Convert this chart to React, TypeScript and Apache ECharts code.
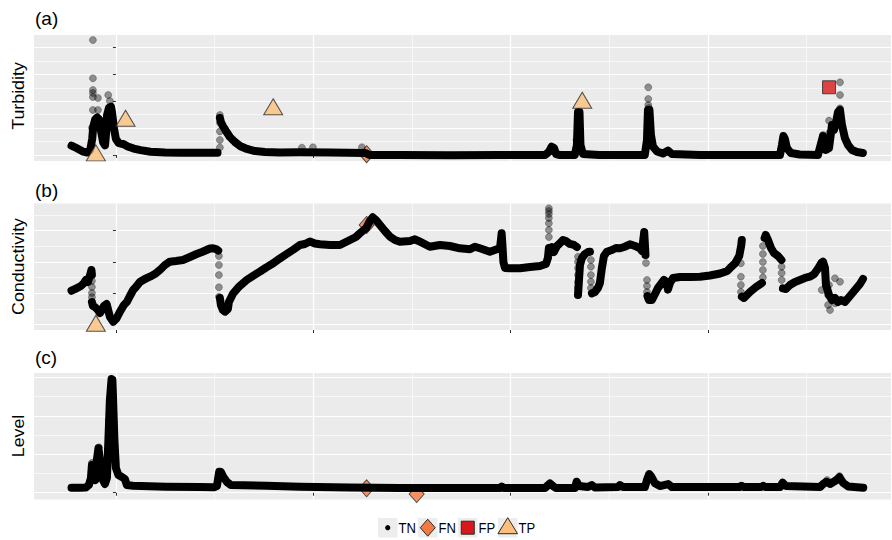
import React, { useEffect, useRef } from 'react';
import * as echarts from 'echarts';

const FONT = '"Liberation Sans", Arial, Helvetica, sans-serif';

// ---- axes (arbitrary units: days on x) ----
const X_MIN = -83;
const X_MAX = 785.5;
const xMajorTicks = [0, 200, 400, 600];
const xMinorTicks = [100, 300, 500, 700];

const turbidityRange = [-5.6, 111.8];
const turbidityMajorTicks = [0, 25, 50, 75, 100];
const turbidityMinorTicks = [12.5, 37.5, 62.5, 87.5];

const conductivityRange = [183.1, 586.8];
const conductivityMajorTicks = [200, 300, 400, 500];
const conductivityMinorTicks = [250, 350, 450, 550];

const levelRange = [-0.088, 1.556];
const levelMajorTicks = [0, 0.5, 1, 1.5];
const levelMinorTicks = [0.25, 0.75, 1.25];

const panelTitles = ['Turbidity', 'Conductivity', 'Level'];
const panelTags = ['(a)', '(b)', '(c)'];
const legendLabels = ['TN', 'FN', 'FP', 'TP'];

// ---- Turbidity (TN trace segments, scattered TN points, events) ----
const turbidityTN = [
  [[-45, 8.7], [-40, 6.5], [-33, 3.1], [-29, 2.3], [-26, 4.7], [-24, 15], [-23, 26], [-21, 33], [-19, 35], [-17, 33], [-15, 22], [-13, 12], [-11, 9], [-10, 20], [-9, 37], [-7, 44], [-5, 45], [-4, 40], [-2, 25], [0, 15], [3, 11], [8, 10], [12, 8], [18, 6], [25, 4.5], [35, 3], [50, 2.3], [67, 2], [85, 2], [103, 2]],
  [[105.4, 34.5], [106.4, 30.7], [108.4, 27], [111.5, 22.4], [115.5, 16.8], [120.6, 12.1], [125.7, 8.4], [132.8, 5.6], [140.9, 3.7], [151, 2.8], [166, 2.3], [186, 2.5], [217, 2.3], [253, 1.9], [257, 0], [288, 0], [338, -0.3], [389, 0], [435, 0], [438.8, 2.8], [441.6, 7.7], [444, 6.5], [446, 0.9], [450, 0], [465, 0], [467.2, 9.3], [468.3, 40], [469.8, 40], [470.8, 9.3], [473.3, 0.9], [490, 0], [536, 0], [538.2, 14], [539.2, 42], [540.7, 42], [542.2, 18.6], [544.3, 7.7], [548.4, 3.3], [554.4, 1.4], [559.4, 4], [563.5, 0.9], [592, 0], [632, 0], [673, 0], [675, 9.3], [676.5, 17.7], [678, 14.9], [680, 6.5], [684, 1.9], [693, 0.5], [711.5, 0], [716.6, 17.7], [719.6, 4.7], [722.7, 6.5], [725.7, 28], [727.7, 23.3], [729.7, 30], [731.8, 40], [733.8, 42], [735.8, 28], [738.8, 15.8], [742, 9.3], [746, 4.7], [751, 2.8], [757, 1.9]],
];
const turbidityScatter = [[-23.3, 107.1], [-23.3, 71.5], [-23.3, 60.6], [-23.3, 57.8], [-23.3, 54], [-18.2, 53.1], [-23.3, 41.9], [-18.2, 41.9], [-7.8, 55.9], [-6.1, 50.3], [-24.3, 25.2], [105.4, 37.3], [105.4, 30], [105.4, 22], [105.4, 14], [105.4, 7], [188.5, 6.8], [199.7, 7.2], [249.3, 7.2], [468.3, 20.5], [468.3, 29.8], [466.7, 14], [539.5, 63.1], [539.5, 52.2], [539.5, 46.6], [540.2, 43.8], [733.8, 67.7], [733.8, 55.9], [733.8, 43.5], [722.7, 32], [722.7, 20.2], [716.6, 18.6]];
const turbidityFN = [[254.1, 0.7]];
const turbidityFP = [[722.7, 63.1]];
const turbidityTP = [[-20.3, 2.0], [9.8, 34.2], [159.4, 45], [472.6, 51]];

// ---- Conductivity ----
const conductivityTN = [
  [[-45, 308.5], [-40, 316.2], [-35.5, 323.5], [-32.4, 333], [-30.4, 342.7], [-28.4, 336.3], [-26.4, 355.4], [-24.8, 374.6], [-24.3, 358.6]],
  [[-24.3, 272.4], [-23.3, 259.7], [-21.3, 256.5], [-18.2, 246.9], [-16.2, 237.3], [-14.2, 246.9], [-12.2, 259.7], [-9.4, 266], [-8.1, 250.1], [-6.1, 225.5], [-2.7, 209.6], [0.7, 220.4], [4.1, 241.5], [8.1, 262.9], [11.1, 272.4], [14.2, 291.6], [17.5, 310.7], [20.3, 320.3], [24.3, 336.3], [29.4, 345.9], [34.5, 353.2], [39.5, 361.8], [44.6, 374.6], [49.7, 390.5], [54.7, 401.1], [60.8, 403.3], [67.9, 406.5], [75, 416], [81.8, 425.6], [87.2, 432], [91.9, 438.4], [95.3, 443.2], [98.6, 443.8], [101.3, 441.6], [103.7, 436.8]],
  [[105.4, 285.2], [106.4, 262.9], [108.4, 246.9], [110.5, 241.5], [113.5, 250.1], [114.5, 272.4], [118.9, 300.2], [125, 322], [132.5, 342.7], [139, 356], [145.9, 369.2], [152.5, 383], [159.4, 396], [166, 411], [173, 425.6], [180, 440], [186.5, 454.4], [191.5, 457.6], [196.6, 465.5], [201.7, 459.2], [206.8, 456.6], [216.9, 454.4], [227, 454.4], [237.2, 470.3], [243.2, 479.9], [247.3, 491.7], [253.4, 507.7], [257.4, 531], [260.2, 542.8], [263.5, 534.2], [267.6, 518.2], [272.6, 499], [277.7, 480.9], [282.8, 470.3], [287.8, 464.9], [298, 467.1], [303, 472.6], [308.1, 464.9], [318.2, 448.9], [328.4, 454.4], [338.5, 451.2], [348.6, 443.8], [358.8, 440.6], [363.8, 448.9], [368.9, 443.8], [379, 433], [386.1, 440.6], [389.2, 443.8], [390.2, 470.3], [390.9, 491.7], [391.7, 454.4], [392.7, 400.1], [394.3, 381], [399.4, 380], [409.5, 380], [419.6, 384.2], [429.7, 387.3], [435.8, 393.7], [437.8, 412.9], [438.8, 444.8], [439.9, 428.8], [441.9, 448], [443.9, 432], [447, 451.2], [450, 459.8], [453.1, 470.3], [456, 467.1], [460.1, 457.6], [464.2, 454.4], [467.2, 448]],
  [[468.3, 294.8], [469.3, 342.7], [470.3, 390.5], [472.3, 412.9], [475.3, 425.6], [478.4, 432], [480.4, 433]],
  [[482.4, 300.2], [485.4, 304.4], [488.5, 317.1], [490.5, 333.1], [492.5, 380.9], [494.6, 419.3], [497.6, 433], [502.7, 438.4], [506.8, 444.8], [510.8, 443.8], [515.9, 448.9], [520.9, 456.6], [526, 451.2], [531.1, 443.8], [533.1, 435.2], [535.4, 496], [536.7, 422.4]],
  [[538.7, 291.6], [540.2, 278.8], [543.2, 278.8], [546.3, 298], [549.3, 317.1], [552.4, 329.9], [555.4, 342.7], [558.5, 335], [559.4, 312], [561.5, 333], [564.6, 349.1], [571.6, 352.3], [581.7, 352.3], [591.9, 353.2], [602, 357], [612.4, 363.4], [619.5, 371.4], [622.5, 381], [627.7, 396.9], [631.7, 419.3], [633.8, 454.4], [634.3, 470.3]],
  [[634.4, 289.4], [636.5, 285.2], [642.6, 304.4], [648.7, 320.3], [654.7, 333.1]],
  [[657.4, 476.7], [658.5, 486.3], [660.8, 470.3], [663.9, 444.8], [666.9, 428.8], [671, 419.3], [674.5, 406.5]],
  [[676, 316.2], [679, 314], [683.1, 326.7], [688.2, 336.3], [693.3, 342.7], [698.3, 349.1], [703.4, 353.2], [707.7, 361.8], [711.9, 380.9], [714.9, 396.9], [716.6, 401.1], [718.6, 380.9], [719.6, 326.7], [722.7, 294.8], [725.7, 278.8], [728.7, 285.2], [731.8, 272.4], [734.8, 278.8], [738.8, 272.4], [743.9, 291.6], [749, 310.7], [754, 329.9], [757.1, 345.9]],
];
const conductivityScatter = [[-24.3, 339.5], [-24.3, 320.3], [-24.3, 301.2], [-24.3, 288], [104.4, 419.3], [104.4, 390.5], [104.4, 358.6], [104.4, 319.4], [104.4, 289.4], [390.2, 460.8], [390.2, 438.4], [438.8, 571.5], [438.8, 562.9], [438.8, 553.3], [438.8, 540.5], [438.8, 523.6], [438.8, 502.2], [438.8, 479.9], [468.3, 417], [468.3, 400.1], [468.3, 381], [468.3, 358.6], [468.3, 336.3], [468.3, 317.1], [481.4, 406.5], [481.4, 385.1], [481.4, 358.6], [481.4, 337.2], [481.4, 317.1], [537.2, 396.9], [538.2, 342.7], [538.2, 323.5], [538.2, 304.4], [633.4, 396], [633.4, 353.2], [633.4, 326.7], [633.4, 304.4], [655.7, 351], [655.7, 374.6], [655.7, 400.1], [655.7, 425.6], [655.7, 451.2], [674.7, 385.1], [674.7, 365], [674.7, 342.7], [715.3, 310.7], [721.7, 294.8], [721.7, 262.9], [728.7, 348.1], [733.8, 337.2], [728.7, 268.3], [738.8, 278.8], [722.7, 326.7], [723.7, 246.9]];
const conductivityFN = [[254.1, 518.2]];
const conductivityTP = [[-20.3, 204.5]];

// ---- Level ----
const levelTN = [
  [[-45, 0.065], [-36.5, 0.065], [-30.4, 0.068], [-27.4, 0.1], [-25.3, 0.191], [-24.3, 0.36], [-23.3, 0.321], [-22.3, 0.191], [-20.8, 0.165], [-19.3, 0.425], [-17.7, 0.577], [-16.2, 0.425], [-14.2, 0.191], [-11.1, 0.113], [-9.1, 0.191], [-7.6, 0.685], [-6.1, 1.205], [-4.4, 1.478], [-3.5, 1.465], [-2.5, 1.075], [-1.5, 0.685], [0, 0.321], [2.5, 0.23], [6.1, 0.204], [9.1, 0.178], [11.1, 0.1], [17.2, 0.091], [50.7, 0.078], [85.1, 0.074], [99.3, 0.07], [102.4, 0.087], [104.7, 0.273], [106.4, 0.269], [108.8, 0.208], [112.5, 0.139], [116.5, 0.1], [152.7, 0.091], [186.5, 0.078], [237.2, 0.068], [287.8, 0.061], [338.5, 0.061], [389, 0.061], [390.9, 0.081], [393, 0.061], [434.8, 0.061], [439.9, 0.122], [442.9, 0.087], [445.9, 0.061], [465.2, 0.061], [466.9, 0.143], [469.3, 0.087], [478.4, 0.074], [482.3, 0.1], [485.4, 0.068], [508.8, 0.074], [510.8, 0.1], [513.8, 0.074], [536.1, 0.074], [538.2, 0.165], [540.5, 0.243], [542.2, 0.217], [546.3, 0.122], [551.3, 0.087], [559.7, 0.113], [563.5, 0.074], [591.9, 0.074], [632, 0.074], [634.1, 0.091], [636, 0.074], [654, 0.074], [656, 0.091], [658, 0.074], [673, 0.074], [675.7, 0.13], [679, 0.087], [713.5, 0.074], [716.6, 0.113], [720.2, 0.143], [723.7, 0.113], [728.7, 0.152], [733.3, 0.2], [737.1, 0.126], [742.2, 0.081], [757.4, 0.065]],
];
const levelScatter = [[-24.3, 0.388], [-24.3, 0.27], [-17.2, 0.59], [-7.1, 0.945], [-7.1, 0.815], [-8.1, 0.555], [-3, 1.27], [-3, 0.945], [-2, 0.815], [733.3, 0.217], [720.7, 0.165]];
const levelFN = [[254.1, 0.057], [304.8, -0.017]];

// ---- styling ----
const PANEL_BG = '#EBEBEB';
const FN_COLOR = '#F47A44';
const FP_COLOR = '#D7191C';
const TP_COLOR = '#FCC07C';
const EDGE = '#2b2b2b';

const gridBoxes = [
  { left: 34, top: 35, width: 857, height: 126 },
  { left: 34, top: 203.5, width: 857, height: 126.5 },
  { left: 34, top: 373, width: 857, height: 126.5 },
];
const tagY = [18, 190, 357];
const titleY = [96, 266.5, 436];

function buildOption() {
  const yRanges = [turbidityRange, conductivityRange, levelRange];
  const yMajors = [turbidityMajorTicks, conductivityMajorTicks, levelMajorTicks];
  const yMinors = [turbidityMinorTicks, conductivityMinorTicks, levelMinorTicks];

  const grid = gridBoxes.map((g) => ({
    ...g,
    show: true,
    backgroundColor: PANEL_BG,
    borderWidth: 0,
    containLabel: false,
  }));

  const xAxis: any[] = [];
  const yAxis: any[] = [];
  gridBoxes.forEach((_, i) => {
    xAxis.push({
      type: 'value', gridIndex: i, min: X_MIN, max: X_MAX,
      axisLine: { show: false }, axisLabel: { show: false },
      axisTick: { show: true, length: 3, lineStyle: { color: '#333', width: 1 }, customValues: xMajorTicks },
      splitLine: { show: true, lineStyle: { color: '#fff', width: 1.2 } },
    });
    xAxis.push({
      type: 'value', gridIndex: i, min: X_MIN, max: X_MAX, position: 'bottom',
      axisLine: { show: false }, axisLabel: { show: false },
      axisTick: { show: false, customValues: xMinorTicks },
      splitLine: { show: true, lineStyle: { color: '#fff', width: 0.6 } },
    });
    yAxis.push({
      type: 'value', gridIndex: i, min: yRanges[i][0], max: yRanges[i][1],
      axisLine: { show: false }, axisLabel: { show: false },
      axisTick: { show: true, length: 3, lineStyle: { color: '#333', width: 1 }, customValues: yMajors[i] },
      splitLine: { show: true, lineStyle: { color: '#fff', width: 1.2 } },
    });
    yAxis.push({
      type: 'value', gridIndex: i, min: yRanges[i][0], max: yRanges[i][1], position: 'left',
      axisLine: { show: false }, axisLabel: { show: false },
      axisTick: { show: false, customValues: yMinors[i] },
      splitLine: { show: true, lineStyle: { color: '#fff', width: 0.6 } },
    });
  });

  const series: any[] = [];
  const ax = (i: number) => ({ xAxisIndex: i * 2, yAxisIndex: i * 2 });

  const addTrace = (i: number, segs: number[][][]) => {
    segs.forEach((seg) => {
      series.push({
        type: 'line', ...ax(i), data: seg, symbol: 'none', silent: true, z: 3,
        lineStyle: { color: '#000', width: 8, cap: 'round', join: 'round' },
      });
    });
  };
  const addDots = (i: number, pts: number[][]) => {
    series.push({
      type: 'scatter', ...ax(i), data: pts, symbol: 'circle', symbolSize: 7, z: 4, silent: true,
      itemStyle: { color: 'rgba(0,0,0,0.5)', borderColor: 'rgba(0,0,0,0.6)', borderWidth: 0.6 },
    });
  };
  const addFN = (i: number, pts: number[][]) => {
    series.push({
      type: 'scatter', ...ax(i), data: pts, symbol: 'diamond', symbolSize: [15, 17], z: 2, silent: true,
      itemStyle: { color: FN_COLOR, borderColor: EDGE, borderWidth: 1 },
    });
  };
  const addFP = (i: number, pts: number[][]) => {
    series.push({
      type: 'scatter', ...ax(i), data: pts, symbol: 'rect', symbolSize: 13, z: 5, silent: true,
      itemStyle: { color: FP_COLOR, borderColor: EDGE, borderWidth: 1 },
    });
  };
  const addTP = (i: number, pts: number[][]) => {
    series.push({
      type: 'scatter', ...ax(i), data: pts, symbol: 'triangle', symbolSize: [19, 16], z: 5, silent: true,
      itemStyle: { color: TP_COLOR, borderColor: EDGE, borderWidth: 1 },
    });
  };

  addFN(0, turbidityFN);
  addTrace(0, turbidityTN);
  addDots(0, turbidityScatter);
  addFP(0, turbidityFP);
  addTP(0, turbidityTP);

  addFN(1, conductivityFN);
  addTrace(1, conductivityTN);
  addDots(1, conductivityScatter);
  addTP(1, conductivityTP);

  addFN(2, levelFN);
  addTrace(2, levelTN);
  addDots(2, levelScatter);

  const graphic: any[] = [];
  panelTags.forEach((t, i) => {
    graphic.push({
      type: 'text', x: 35, y: tagY[i], silent: true,
      style: { text: t, font: `19px ${FONT}`, fill: '#000', align: 'left', verticalAlign: 'middle', textAlign: 'left', textVerticalAlign: 'middle' },
    });
  });
  panelTitles.forEach((t, i) => {
    graphic.push({
      type: 'text', x: 18.5, y: titleY[i], rotation: Math.PI / 2, scaleX: 1.08, silent: true,
      style: { text: t, font: `16.5px ${FONT}`, fill: '#000', align: 'center', verticalAlign: 'middle', textAlign: 'center', textVerticalAlign: 'middle' },
    });
  });

  // legend (bottom)
  const lgX0 = 378;
  const lgStride = 40;
  const lgY = 518;
  const keyW = 19.5;
  const cy = 527.7;
  legendLabels.forEach((lab, k) => {
    const x = lgX0 + k * lgStride;
    const cx = x + keyW / 2;
    graphic.push({ type: 'rect', silent: true, shape: { x, y: lgY, width: keyW, height: keyW }, style: { fill: '#EDEDED' } });
    if (lab === 'TN') {
      graphic.push({ type: 'circle', silent: true, shape: { cx, cy, r: 2.6 }, style: { fill: '#000' } });
    } else if (lab === 'FN') {
      graphic.push({ type: 'polygon', silent: true, shape: { points: [[cx, cy - 8.5], [cx + 7.5, cy], [cx, cy + 8.5], [cx - 7.5, cy]] }, style: { fill: FN_COLOR, stroke: EDGE, lineWidth: 1 } });
    } else if (lab === 'FP') {
      graphic.push({ type: 'rect', silent: true, shape: { x: cx - 6.5, y: cy - 6.5, width: 13, height: 13 }, style: { fill: FP_COLOR, stroke: EDGE, lineWidth: 1 } });
    } else {
      graphic.push({ type: 'polygon', silent: true, shape: { points: [[cx, cy - 10], [cx + 9.8, cy + 6], [cx - 9.8, cy + 6]] }, style: { fill: TP_COLOR, stroke: EDGE, lineWidth: 1 } });
    }
    graphic.push({
      type: 'text', x: x + keyW + 1, y: cy, scaleX: 0.87, silent: true,
      style: { text: lab, font: `15px ${FONT}`, fill: '#000', align: 'left', verticalAlign: 'middle', textAlign: 'left', textVerticalAlign: 'middle' },
    });
  });

  return {
    animation: false,
    backgroundColor: '#fff',
    grid,
    xAxis,
    yAxis,
    series,
    graphic,
  };
}

export default function App() {
  const ref = useRef<HTMLDivElement | null>(null);
  useEffect(() => {
    if (!ref.current) return;
    const chart = echarts.init(ref.current, null, { renderer: 'svg' });
    chart.setOption(buildOption() as any);
    return () => chart.dispose();
  }, []);
  return (
    <div
      ref={ref}
      style={{ position: 'fixed', left: 0, top: 0, width: 892, height: 540, background: '#fff' }}
    />
  );
}
